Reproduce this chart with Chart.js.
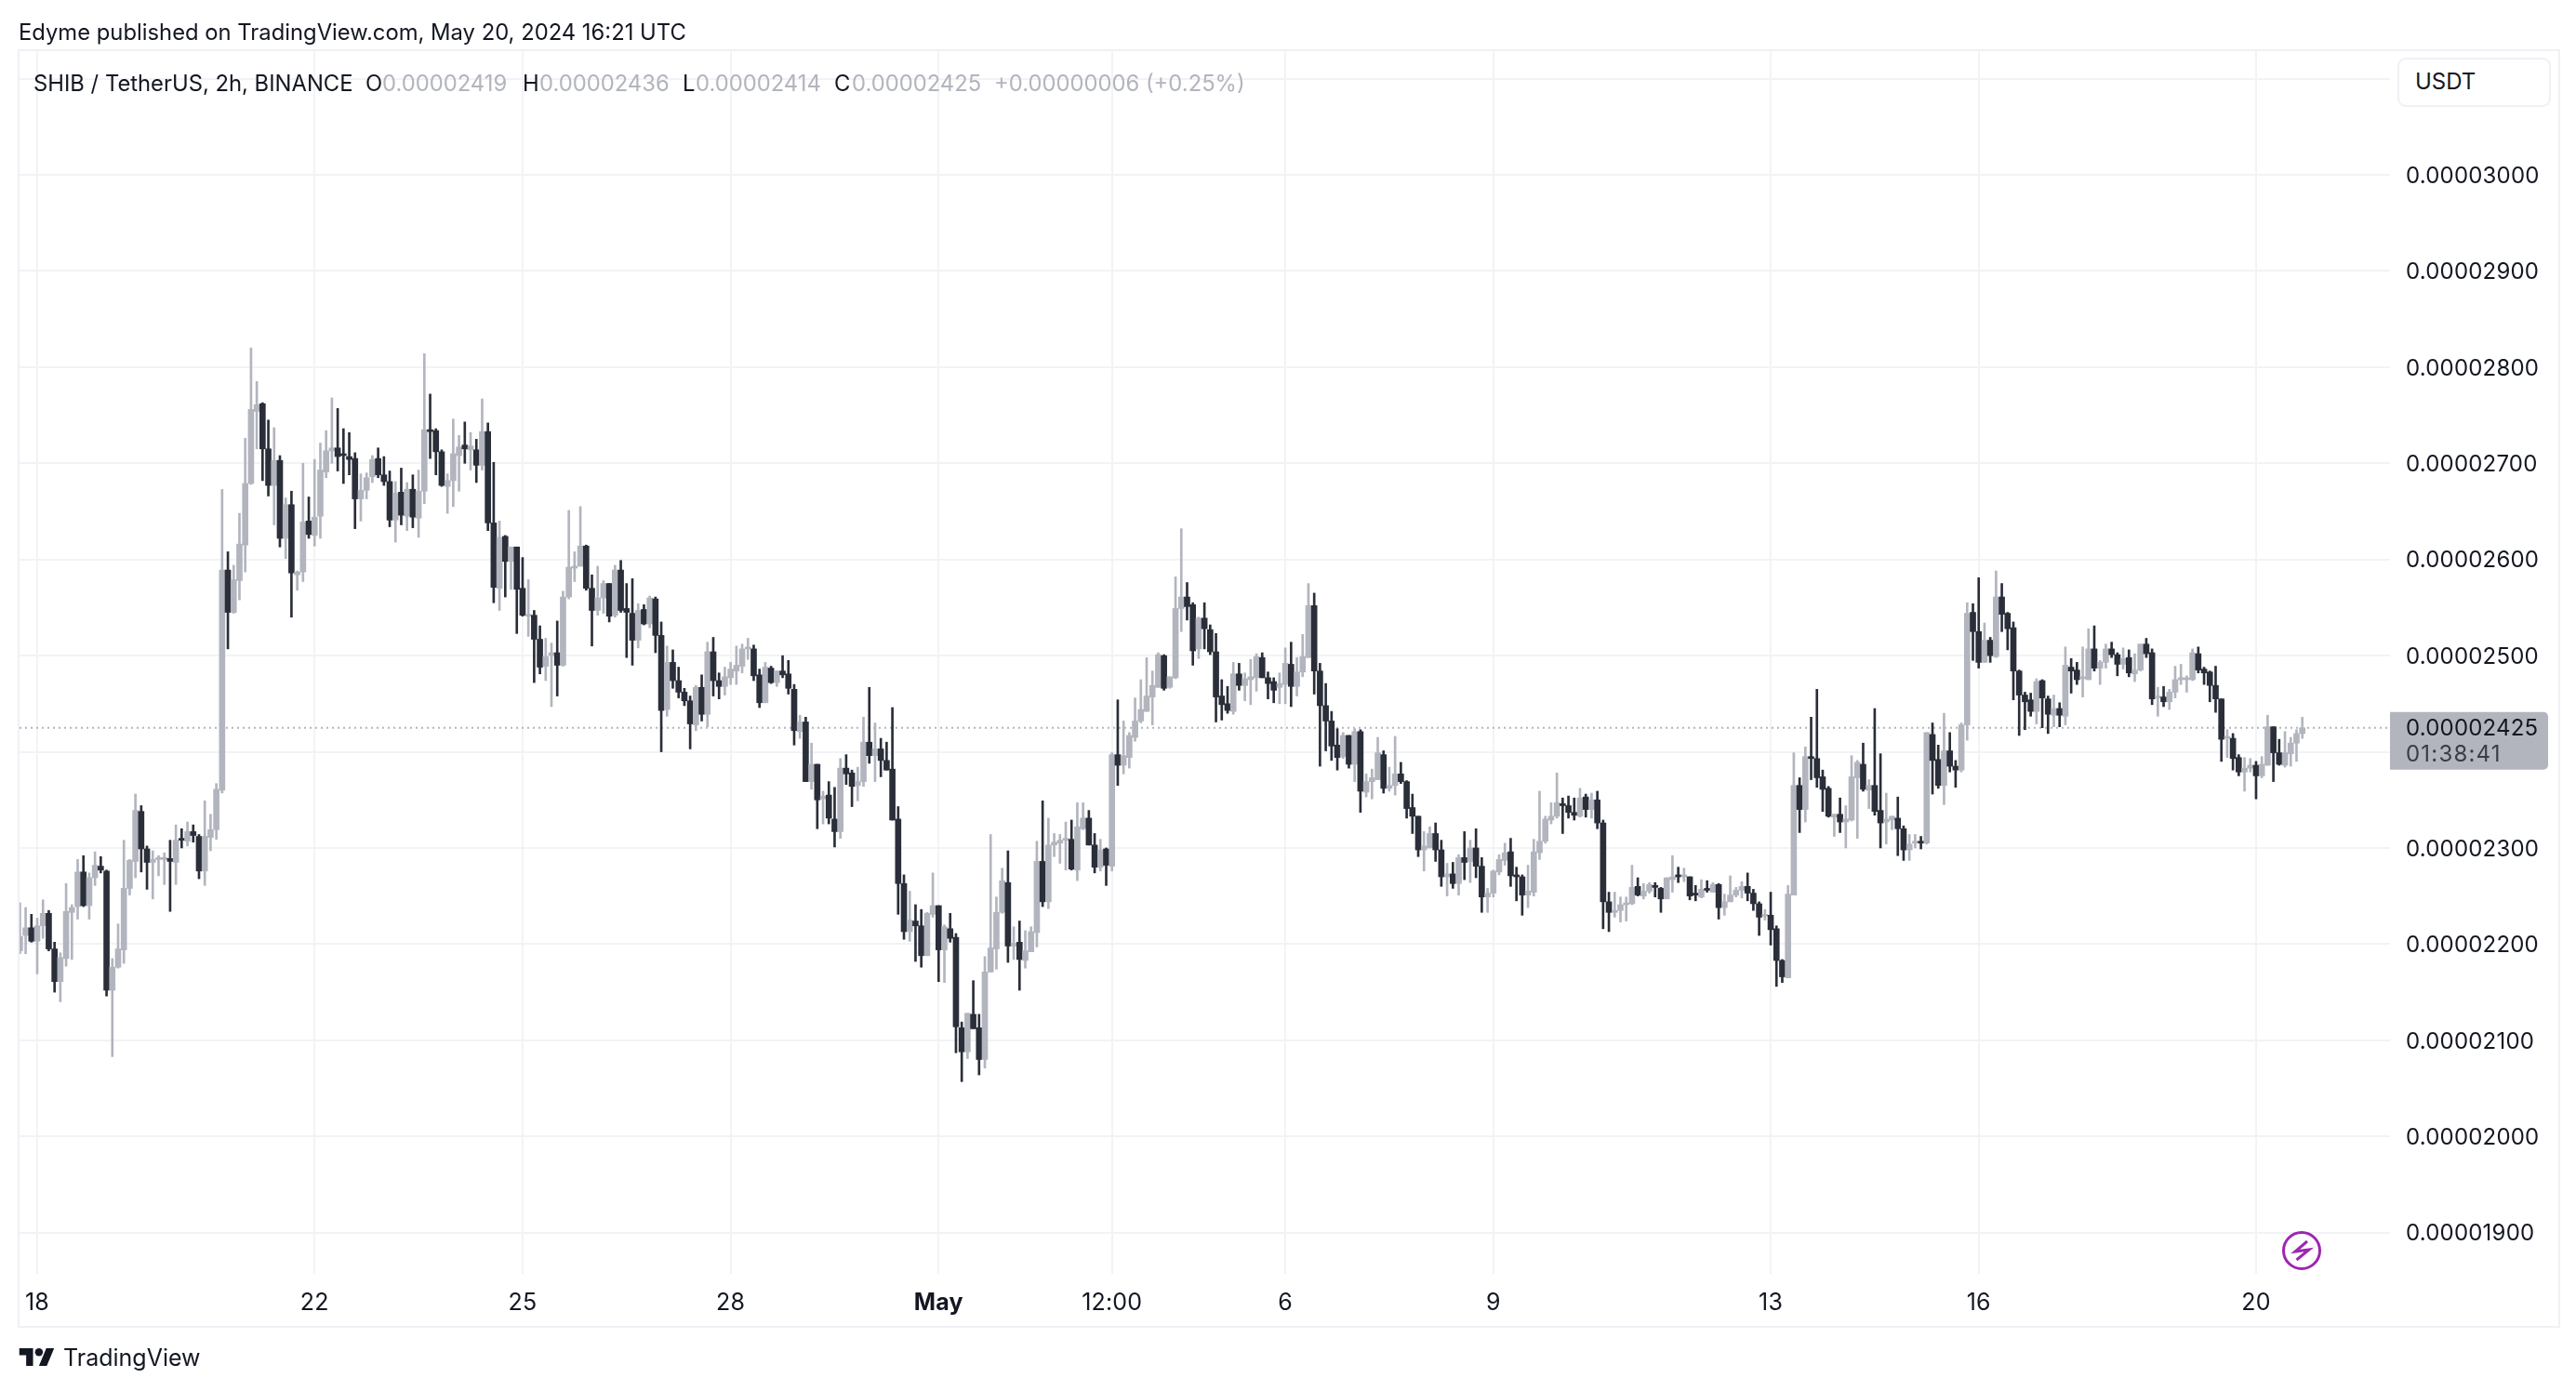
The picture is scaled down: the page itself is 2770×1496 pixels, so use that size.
<!DOCTYPE html>
<html>
<head>
<meta charset="utf-8">
<title>SHIB / TetherUS</title>
<script src="https://cdn.jsdelivr.net/npm/chart.js@4/dist/chart.umd.min.js"></script>
<style>
    html, body { margin: 0; padding: 0; background: #fff; }
    body { width: 2770px; height: 1496px; position: relative; overflow: hidden; font-family: Inter, sans-serif; color: #131722; }
    canvas { position: absolute; left: 0; top: 0; }
    .txt { position: absolute; white-space: nowrap; font-size: 23.8px; line-height: 30px; }
    .grey { color: #b2b5be; }
    #frame { position: absolute; left: 19px; top: 53px; width: 2730px; height: 1371px; border: 2px solid #f0f0f5; }
    #unit { position: absolute; left: 2578px; top: 62px; width: 161px; height: 49px; background: #fff; border: 2px solid #f0f0f5; border-radius: 9px; }
    #unit span { position: absolute; left: 17px; top: 9px; font-size: 24px; line-height: 30px; }
</style>
</head>
<body>
<div id="frame"></div>
<canvas id="priceChart" width="2770" height="1496"></canvas>
<div class="txt" style="left:20px;top:20px">Edyme published on TradingView.com, May 20, 2024 16:21 UTC</div>
<div class="txt" style="left:36px;top:75px">SHIB / TetherUS, 2h, BINANCE</div>
<div class="txt" style="left:393px;top:75px">O</div><div class="txt grey" style="left:411px;top:75px">0.00002419</div>
<div class="txt" style="left:562px;top:75px">H</div><div class="txt grey" style="left:580px;top:75px">0.00002436</div>
<div class="txt" style="left:734px;top:75px">L</div><div class="txt grey" style="left:748px;top:75px">0.00002414</div>
<div class="txt" style="left:897px;top:75px">C</div><div class="txt grey" style="left:916px;top:75px">0.00002425</div>
<div class="txt grey" style="left:1069px;top:75px">+0.00000006 (+0.25%)</div>
<div id="unit"><span>USDT</span></div>
<svg style="position:absolute;left:2451px;top:1321px" width="48" height="48" viewBox="-24 -24 48 48">
    <circle cx="0" cy="0" r="19.5" fill="#fff" stroke="#9c27b0" stroke-width="3"/>
    <path d="M6 -10 L-7 1 L8 -1 L-5.5 10" fill="none" stroke="#9c27b0" stroke-width="3"/>
</svg>
<svg style="position:absolute;left:20px;top:1450px" width="39" height="19" viewBox="0 4 35.5 18" fill="#131722">
    <path d="M14 22H7V11H0V4h14v18zM28 22h-8l7.5-18h8L28 22z"/><circle cx="20" cy="8" r="4"/>
</svg>
<div class="txt" style="left:68px;top:1445px;font-size:25px">TradingView</div>
<script>
// Prices in units of 0.00000001 USDT, one entry per 2h candle
const opens = [
    2193,2209,2217,2203,2219,2232,2195,2161,2185,2233,
    2239,2275,2240,2269,2281,2276,2152,2176,2194,2258,
    2286,2338,2299,2285,2288,2288,2289,2285,2310,2307,
    2317,2312,2276,2311,2319,2360,2589,2545,2578,2615,
    2679,2754,2762,2715,2677,2703,2622,2657,2584,2587,
    2640,2625,2645,2691,2713,2716,2709,2707,2705,2663,
    2672,2686,2705,2688,2681,2641,2670,2645,2673,2643,
    2671,2735,2734,2712,2676,2682,2708,2719,2714,2714,
    2698,2733,2638,2570,2624,2598,2613,2570,2541,2542,
    2517,2489,2500,2503,2490,2561,2591,2593,2614,2570,
    2547,2560,2575,2542,2589,2549,2544,2516,2548,2533,
    2559,2521,2444,2493,2474,2462,2453,2428,2467,2439,
    2504,2474,2468,2477,2484,2489,2507,2507,2480,2451,
    2487,2472,2484,2481,2465,2421,2431,2369,2387,2351,
    2355,2330,2317,2383,2378,2365,2369,2410,2396,2403,
    2391,2382,2330,2263,2213,2224,2219,2188,2231,2240,
    2194,2216,2207,2113,2088,2127,2113,2080,2171,2195,
    2233,2264,2198,2202,2183,2192,2212,2286,2244,2303,
    2305,2308,2309,2277,2320,2331,2303,2280,2299,2281,
    2397,2386,2394,2415,2432,2442,2457,2467,2500,2467,
    2477,2549,2561,2553,2507,2539,2527,2504,2458,2450,
    2442,2481,2469,2475,2477,2498,2477,2473,2467,2470,
    2491,2468,2483,2498,2552,2484,2448,2432,2407,2395,
    2417,2387,2421,2358,2369,2371,2397,2362,2365,2377,
    2369,2342,2333,2298,2300,2315,2298,2270,2273,2263,
    2290,2286,2300,2281,2249,2253,2275,2287,2296,2272,
    2270,2251,2254,2295,2307,2329,2333,2346,2344,2337,
    2333,2353,2340,2350,2326,2244,2233,2235,2241,2242,
    2260,2250,2255,2261,2258,2247,2267,2272,2270,2270,
    2253,2249,2257,2254,2262,2238,2244,2251,2256,2260,
    2253,2242,2229,2230,2216,2183,2165,2251,2365,2340,
    2395,2393,2374,2362,2332,2335,2327,2329,2373,2387,
    2360,2365,2339,2327,2329,2331,2320,2298,2305,2307,
    2305,2418,2392,2365,2401,2385,2381,2428,2545,2525,
    2493,2516,2499,2561,2544,2529,2484,2459,2454,2442,
    2474,2455,2438,2445,2437,2488,2485,2476,2475,2507,
    2487,2493,2507,2501,2491,2498,2481,2485,2512,2503,
    2456,2457,2452,2462,2475,2475,2475,2502,2486,2483,
    2469,2455,2414,2414,2394,2379,2383,2386,2375,2386,
    2426,2399,2386,2398,2409,2419
];
const highs = [
    2243,2238,2231,2227,2246,2235,2202,2191,2263,2241,
    2288,2292,2274,2296,2291,2277,2185,2221,2308,2288,
    2356,2344,2302,2297,2292,2295,2308,2324,2320,2327,
    2324,2314,2349,2335,2367,2673,2608,2594,2648,2726,
    2820,2785,2763,2745,2737,2708,2664,2671,2588,2700,
    2665,2704,2721,2734,2768,2757,2736,2732,2711,2689,
    2690,2708,2716,2707,2692,2681,2695,2680,2688,2693,
    2814,2772,2736,2714,2689,2746,2729,2743,2732,2725,
    2767,2742,2701,2640,2625,2613,2613,2602,2579,2547,
    2531,2518,2513,2536,2567,2651,2608,2655,2615,2584,
    2593,2578,2575,2594,2599,2575,2580,2554,2553,2562,
    2561,2535,2510,2506,2488,2466,2458,2469,2480,2514,
    2519,2482,2488,2493,2510,2512,2518,2511,2486,2493,
    2489,2484,2500,2495,2470,2438,2436,2409,2387,2359,
    2369,2363,2393,2397,2381,2384,2436,2467,2430,2414,
    2410,2446,2343,2272,2255,2241,2236,2233,2274,2240,
    2220,2232,2211,2119,2128,2162,2127,2187,2314,2249,
    2279,2297,2218,2224,2214,2218,2307,2349,2331,2315,
    2314,2327,2329,2347,2347,2339,2315,2309,2300,2399,
    2454,2432,2420,2456,2475,2498,2484,2503,2501,2478,
    2582,2632,2576,2555,2540,2555,2532,2523,2475,2468,
    2493,2492,2482,2496,2502,2503,2483,2477,2482,2508,
    2514,2498,2522,2575,2565,2492,2471,2442,2424,2420,
    2417,2424,2423,2377,2382,2415,2401,2384,2416,2389,
    2370,2356,2333,2317,2322,2326,2308,2284,2285,2293,
    2317,2308,2320,2290,2258,2277,2293,2305,2310,2280,
    2272,2282,2309,2359,2333,2347,2378,2352,2354,2352,
    2362,2356,2357,2359,2329,2254,2254,2249,2249,2282,
    2269,2263,2264,2264,2259,2269,2292,2280,2279,2270,
    2261,2267,2266,2264,2263,2252,2271,2259,2265,2274,
    2257,2244,2236,2254,2219,2184,2261,2399,2373,2405,
    2436,2465,2381,2364,2335,2352,2344,2396,2391,2409,
    2371,2445,2398,2357,2333,2353,2323,2314,2314,2312,
    2420,2430,2407,2440,2420,2391,2430,2555,2554,2581,
    2534,2519,2588,2575,2545,2535,2485,2462,2461,2476,
    2475,2458,2459,2451,2509,2497,2493,2509,2528,2531,
    2495,2512,2514,2503,2508,2506,2502,2512,2518,2507,
    2467,2468,2465,2489,2491,2479,2507,2509,2488,2484,
    2489,2455,2423,2419,2397,2394,2393,2390,2395,2438,
    2426,2413,2421,2415,2423,2436
];
const lows = [
    2190,2190,2202,2169,2206,2193,2150,2140,2177,2184,
    2226,2239,2226,2261,2274,2146,2083,2175,2180,2251,
    2269,2275,2257,2247,2271,2262,2234,2262,2300,2302,
    2306,2268,2261,2297,2309,2357,2507,2544,2558,2587,
    2678,2715,2682,2666,2636,2613,2601,2540,2568,2577,
    2622,2614,2622,2685,2700,2692,2679,2688,2632,2640,
    2663,2680,2685,2677,2634,2618,2636,2630,2633,2623,
    2658,2705,2688,2676,2648,2655,2671,2700,2693,2680,
    2693,2630,2555,2547,2561,2569,2523,2541,2520,2472,
    2481,2474,2447,2458,2489,2559,2577,2593,2568,2510,
    2542,2544,2535,2540,2545,2498,2490,2508,2532,2529,
    2503,2400,2437,2466,2456,2448,2403,2422,2432,2426,
    2458,2455,2459,2470,2470,2482,2496,2474,2446,2451,
    2471,2468,2477,2460,2407,2414,2369,2361,2320,2325,
    2325,2301,2310,2366,2343,2349,2364,2388,2369,2374,
    2381,2329,2231,2205,2203,2182,2176,2188,2228,2161,
    2160,2202,2087,2057,2081,2112,2064,2071,2171,2174,
    2232,2181,2184,2152,2175,2192,2197,2239,2237,2291,
    2284,2277,2277,2266,2319,2303,2274,2276,2261,2276,
    2365,2377,2383,2411,2430,2442,2428,2467,2464,2466,
    2476,2525,2537,2490,2497,2507,2501,2431,2433,2440,
    2439,2464,2453,2449,2463,2477,2455,2451,2450,2450,
    2447,2458,2478,2498,2460,2385,2401,2391,2381,2393,
    2383,2369,2337,2353,2351,2371,2357,2359,2355,2367,
    2331,2315,2291,2276,2300,2286,2260,2250,2258,2251,
    2267,2264,2269,2233,2233,2249,2272,2282,2260,2245,
    2230,2238,2250,2288,2305,2325,2331,2315,2331,2329,
    2332,2332,2331,2320,2216,2213,2228,2223,2224,2241,
    2250,2247,2253,2249,2233,2247,2254,2264,2265,2246,
    2245,2248,2254,2254,2226,2230,2244,2249,2248,2245,
    2235,2209,2225,2199,2156,2160,2165,2251,2316,2327,
    2371,2363,2338,2332,2312,2316,2300,2328,2310,2359,
    2341,2334,2300,2304,2319,2292,2287,2287,2300,2299,
    2304,2356,2362,2345,2379,2363,2379,2412,2495,2487,
    2493,2493,2498,2525,2506,2454,2417,2423,2437,2429,
    2425,2419,2426,2426,2428,2461,2470,2457,2475,2484,
    2470,2487,2498,2479,2486,2478,2473,2484,2498,2449,
    2437,2447,2444,2456,2470,2462,2474,2482,2470,2452,
    2441,2390,2394,2381,2375,2359,2379,2351,2373,2386,
    2369,2386,2384,2385,2390,2414
];
const closes = [
    2208,2217,2203,2219,2232,2195,2161,2186,2234,2238,
    2275,2240,2269,2282,2277,2152,2176,2195,2258,2287,
    2339,2299,2285,2288,2290,2290,2286,2308,2308,2317,
    2313,2276,2312,2319,2361,2589,2545,2579,2616,2679,
    2756,2761,2715,2677,2703,2622,2657,2586,2587,2639,
    2626,2644,2693,2713,2716,2707,2708,2704,2663,2672,
    2685,2704,2688,2681,2641,2669,2646,2673,2644,2671,
    2735,2733,2712,2677,2682,2710,2717,2715,2718,2698,
    2733,2638,2571,2623,2598,2613,2569,2542,2543,2517,
    2488,2499,2503,2490,2561,2592,2593,2614,2570,2547,
    2560,2575,2541,2589,2547,2545,2516,2547,2533,2560,
    2521,2443,2493,2474,2462,2453,2429,2467,2439,2504,
    2474,2468,2478,2486,2490,2507,2508,2479,2451,2488,
    2472,2484,2480,2466,2422,2431,2369,2387,2350,2354,
    2331,2317,2383,2377,2364,2369,2410,2396,2403,2391,
    2381,2329,2263,2213,2225,2219,2188,2232,2240,2194,
    2218,2206,2114,2088,2128,2112,2080,2171,2196,2233,
    2266,2198,2201,2184,2193,2213,2286,2244,2303,2306,
    2308,2310,2278,2322,2331,2303,2280,2298,2282,2397,
    2386,2396,2417,2432,2444,2458,2469,2501,2466,2478,
    2549,2561,2551,2505,2539,2528,2504,2457,2449,2443,
    2481,2469,2476,2478,2499,2477,2471,2464,2471,2492,
    2468,2483,2499,2552,2484,2448,2432,2406,2394,2417,
    2387,2421,2359,2369,2373,2399,2362,2365,2377,2369,
    2341,2333,2298,2302,2315,2298,2270,2273,2263,2290,
    2285,2300,2281,2249,2253,2276,2288,2295,2271,2270,
    2251,2255,2296,2307,2330,2333,2347,2344,2337,2334,
    2352,2340,2350,2326,2244,2233,2235,2241,2242,2259,
    2251,2255,2262,2259,2247,2269,2270,2270,2271,2250,
    2251,2257,2256,2262,2238,2244,2251,2256,2260,2253,
    2242,2228,2231,2215,2183,2166,2252,2365,2340,2395,
    2393,2373,2361,2333,2335,2327,2330,2374,2389,2361,
    2365,2338,2326,2330,2333,2320,2298,2304,2307,2305,
    2420,2391,2365,2401,2385,2381,2428,2544,2525,2493,
    2516,2500,2561,2543,2528,2484,2459,2452,2442,2473,
    2456,2439,2445,2438,2490,2484,2475,2478,2507,2487,
    2493,2507,2501,2491,2497,2482,2485,2512,2502,2455,
    2457,2452,2462,2475,2477,2477,2503,2485,2482,2469,
    2455,2413,2415,2393,2379,2383,2386,2375,2387,2426,
    2399,2387,2399,2409,2419,2425
];

// Candle number of each time label (candle 0 is Apr 17 18:00)
const timeLabels = ['18', '22', '25', '28', 'May', '12:00', '6', '9', '13', '16', '20'];
const timeCandles = [3, 51, 87, 123, 159, 189, 219, 255, 303, 339, 387];

const priceTicks = [1900, 2000, 2100, 2200, 2300, 2400, 2500, 2600, 2700, 2800, 2900, 3000, 3100];
// 2400 sits behind the last price tag and 3100 behind the USDT box
const priceLabels = ['0.00001900', '0.00002000', '0.00002100', '0.00002200', '0.00002300', '', '0.00002500', '0.00002600', '0.00002700', '0.00002800', '0.00002900', '0.00003000', ''];

const lastPrice = '0.00002425';
const countdown = '01:38:41';

const UP = '#b2b5be';
const DOWN = '#2a2e39';
const UNIT = 1e-8;
const FONT = 'Inter, sans-serif';

const xMin = -0.06;
const xMax = 410.18;

const candleColors = closes.map((c, i) => c >= opens[i] ? UP : DOWN);
const wicks = highs.map((h, i) => ({ x: i, y: [lows[i] * UNIT, h * UNIT] }));
const bodies = closes.map((c, i) => ({
    x: i,
    y: [Math.min(opens[i], c) * UNIT, Math.max(opens[i], c) * UNIT]
}));
const lastClose = closes[closes.length - 1] * UNIT;

// Grey tag with the last price on the price axis
const lastPriceTag = {
    id: 'lastPriceTag',
    beforeDraw(chart) {
        chart.ctx.letterSpacing = '0.2px';
    },
    afterDraw(chart) {
        const ctx = chart.ctx;
        const y = chart.scales.y.getPixelForValue(lastClose);
        ctx.save();
        ctx.fillStyle = UP;
        ctx.beginPath();
        ctx.roundRect(chart.chartArea.right, y - 17, 170, 62, [0, 5, 5, 0]);
        ctx.fill();
        ctx.textBaseline = 'middle';
        ctx.font = '24px ' + FONT;
        ctx.fillStyle = '#131722';
        ctx.fillText(lastPrice, 2587, y + 1);
        ctx.fillStyle = '#3a3d46';
        ctx.letterSpacing = '1.2px';
        ctx.fillText(countdown, 2587, y + 29);
        ctx.restore();
    }
};

const chart = new Chart(document.getElementById('priceChart'), {
    type: 'bar',
    data: {
        datasets: [
            {
                data: bodies,
                backgroundColor: candleColors,
                barThickness: 6,
                minBarLength: 2,
                grouped: false,
                order: 1
            },
            {
                data: wicks,
                backgroundColor: candleColors,
                barThickness: 2,
                grouped: false,
                order: 2
            },
            {
                type: 'line',
                data: [{ x: xMin, y: lastClose }, { x: xMax, y: lastClose }],
                borderColor: UP,
                borderWidth: 2,
                borderDash: [2, 4],
                pointRadius: 0,
                order: 3
            }
        ]
    },
    options: {
        responsive: false,
        animation: false,
        devicePixelRatio: 1,
        layout: { padding: { left: 21, top: 54, right: 20, bottom: 71 } },
        plugins: { legend: { display: false }, tooltip: { enabled: false } },
        scales: {
            x: {
                type: 'linear',
                bounds: 'data',
                offset: false,
                min: xMin,
                max: xMax,
                afterBuildTicks: scale => { scale.ticks = timeCandles.map(v => ({ value: v })); },
                afterFit: scale => { scale.height = 55; },
                border: { display: false },
                grid: { color: '#f2f3f6', lineWidth: 2, drawTicks: false, offset: false },
                ticks: {
                    autoSkip: false,
                    maxRotation: 0,
                    padding: 16,
                    color: '#131722',
                    font: ctx => ({
                        family: FONT,
                        size: 25,
                        weight: timeLabels[ctx.index] === 'May' ? 'bold' : 'normal'
                    }),
                    callback: (value, index) => timeLabels[index]
                }
            },
            y: {
                position: 'right',
                bounds: 'data',
                min: 1857.1 * UNIT,
                max: 3129.6 * UNIT,
                afterBuildTicks: scale => { scale.ticks = priceTicks.map(v => ({ value: v * UNIT })); },
                afterFit: scale => { scale.width = 180; },
                border: { display: false },
                grid: { color: '#f2f3f6', lineWidth: 2, drawTicks: false },
                ticks: {
                    autoSkip: false,
                    padding: 17,
                    labelOffset: 1.5,
                    color: '#131722',
                    font: { family: FONT, size: 24 },
                    callback: (value, index) => priceLabels[index]
                }
            }
        }
    },
    plugins: [lastPriceTag]
});
</script>
</body>
</html>
